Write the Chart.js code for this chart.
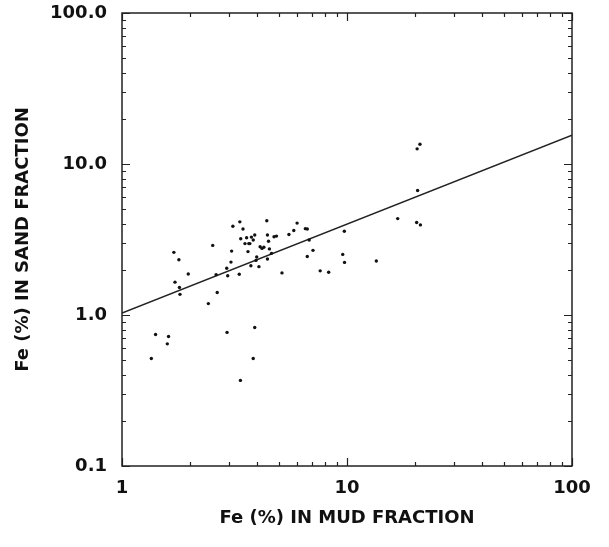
<!DOCTYPE html>
<html>
<head>
<meta charset="utf-8">
<script src="https://cdn.jsdelivr.net/npm/chart.js@4"></script>
<style>
  html, body { margin: 0; padding: 0; background: #fff; }
  #wrap { width: 609px; height: 547px; }
</style>
</head>
<body>
<div id="wrap"><canvas id="feChart" width="609" height="547"></canvas></div>
<script>
// Fe in mud fraction (x) vs Fe in sand fraction (y), both in %
const mudFe = [
  1.35, 1.41, 1.59, 1.61, 1.70, 1.72, 1.79, 1.80, 1.81, 1.97,
  2.42, 2.53, 2.62, 2.65, 2.93, 2.92, 2.95, 3.05, 3.07, 3.11,
  3.32, 3.34, 3.36, 3.37, 3.45, 3.52, 3.58, 3.63, 3.66, 3.70,
  3.74, 3.76, 3.83, 3.83, 3.89, 3.89, 3.94, 3.97, 4.06, 4.11,
  4.19, 4.27, 4.40, 4.43, 4.43, 4.48, 4.52, 4.62, 4.74, 4.86,
  5.14, 5.52, 5.80, 6.00, 6.53, 6.66, 6.66, 6.79, 7.06, 7.60,
  8.29, 9.57, 9.73, 9.75, 13.5, 16.8, 20.5, 21.1, 20.6, 20.4,
  21.2
];
const sandFe = [
  0.515, 0.743, 0.644, 0.72, 2.60, 1.65, 2.32, 1.52, 1.37, 1.87,
  1.19, 2.89, 1.85, 1.41, 0.767, 2.04, 1.82, 2.24, 2.65, 3.87,
  1.86, 4.14, 0.369, 3.20, 3.71, 2.97, 3.25, 2.63, 2.97, 2.97,
  2.12, 3.28, 3.14, 0.515, 0.826, 3.39, 2.30, 2.42, 2.09, 2.83,
  2.76, 2.81, 4.21, 3.39, 2.35, 3.08, 2.74, 2.56, 3.30, 3.33,
  1.90, 3.41, 3.63, 4.06, 3.73, 3.71, 2.44, 3.14, 2.68, 1.96,
  1.92, 2.52, 3.59, 2.23, 2.28, 4.35, 12.6, 13.5, 6.68, 4.10,
  3.95
];
// regression line end points
const fitX = [1, 100];
const fitY = [1.03, 15.5];

const xTicks = [1, 10, 100];
const xTickLabels = ['1', '10', '100'];
const yTicks = [0.1, 1, 10, 100];
const yTickLabels = ['0.1', '1.0', '10.0', '100.0'];

const labelFont = { family: 'DejaVu Sans', size: 18, weight: 'bold' };
const ink = '#111';

// frame + inward log ticks on all four sides
const frameTicks = {
  id: 'frameTicks',
  afterDraw(chart) {
    const { ctx, chartArea: a, scales } = chart;
    ctx.save();
    ctx.strokeStyle = '#222';
    ctx.lineWidth = 1.5;
    ctx.strokeRect(a.left, a.top, a.right - a.left, a.bottom - a.top);
    ctx.lineWidth = 1.2;
    ctx.beginPath();
    for (let d = 1; d < 100; d *= 10) {
      for (let m = 1; m <= 10; m++) {
        const v = d * m;
        const len = (m === 1 || m === 10) ? 8 : 4;
        const px = Math.round(scales.x.getPixelForValue(v)) + 0.5;
        ctx.moveTo(px, a.bottom); ctx.lineTo(px, a.bottom - len);
        ctx.moveTo(px, a.top); ctx.lineTo(px, a.top + len);
      }
    }
    for (let d = 0.1; d < 99; d *= 10) {
      for (let m = 1; m <= 10; m++) {
        const v = d * m;
        const len = (m === 1 || m === 10) ? 8 : 4;
        const py = Math.round(scales.y.getPixelForValue(v)) + 0.5;
        ctx.moveTo(a.left, py); ctx.lineTo(a.left + len, py);
        ctx.moveTo(a.right, py); ctx.lineTo(a.right - len, py);
      }
    }
    ctx.stroke();
    ctx.restore();
  }
};

new Chart(document.getElementById('feChart'), {
  type: 'scatter',
  data: {
    datasets: [
      {
        label: 'Samples',
        data: mudFe.map((x, i) => ({ x: x, y: sandFe[i] })),
        pointRadius: 1.7,
        pointBackgroundColor: ink,
        pointBorderWidth: 0,
      },
      {
        type: 'line',
        label: 'Fit',
        data: fitX.map((x, i) => ({ x: x, y: fitY[i] })),
        borderColor: '#222',
        borderWidth: 1.5,
        pointRadius: 0,
        fill: false,
      },
    ],
  },
  options: {
    responsive: false,
    animation: false,
    layout: { padding: { top: 13, right: 37, left: 0, bottom: 0 } },
    plugins: { legend: { display: false }, tooltip: { enabled: false } },
    scales: {
      x: {
        type: 'logarithmic',
        min: 1,
        max: 100,
        afterBuildTicks: (s) => { s.ticks = xTicks.map((v) => ({ value: v })); },
        afterFit: (s) => { s.height = 81; s.paddingLeft = 0; s.paddingRight = 0; },
        grid: { display: false, drawTicks: false },
        border: { display: false },
        ticks: {
          color: ink,
          font: labelFont,
          padding: 12,
          maxRotation: 0,
          autoSkip: false,
          callback: (v) => xTickLabels[xTicks.indexOf(v)],
        },
        title: {
          display: true,
          text: 'Fe (%) IN MUD FRACTION',
          color: ink,
          font: labelFont,
          padding: { top: 0, bottom: 18 },
        },
      },
      y: {
        type: 'logarithmic',
        min: 0.1,
        max: 100,
        afterBuildTicks: (s) => { s.ticks = yTicks.map((v) => ({ value: v })); },
        afterFit: (s) => { s.width = 122; s.paddingTop = 0; s.paddingBottom = 0; },
        grid: { display: false, drawTicks: false },
        border: { display: false },
        ticks: {
          color: ink,
          font: labelFont,
          padding: 15,
          autoSkip: false,
          callback: (v) => yTickLabels[yTicks.findIndex((t) => Math.abs(t - v) < 1e-9)],
        },
        title: {
          display: true,
          text: 'Fe (%) IN SAND FRACTION',
          color: ink,
          font: labelFont,
          padding: { top: 13, bottom: 0 },
        },
      },
    },
  },
  plugins: [frameTicks],
});
</script>
</body>
</html>
